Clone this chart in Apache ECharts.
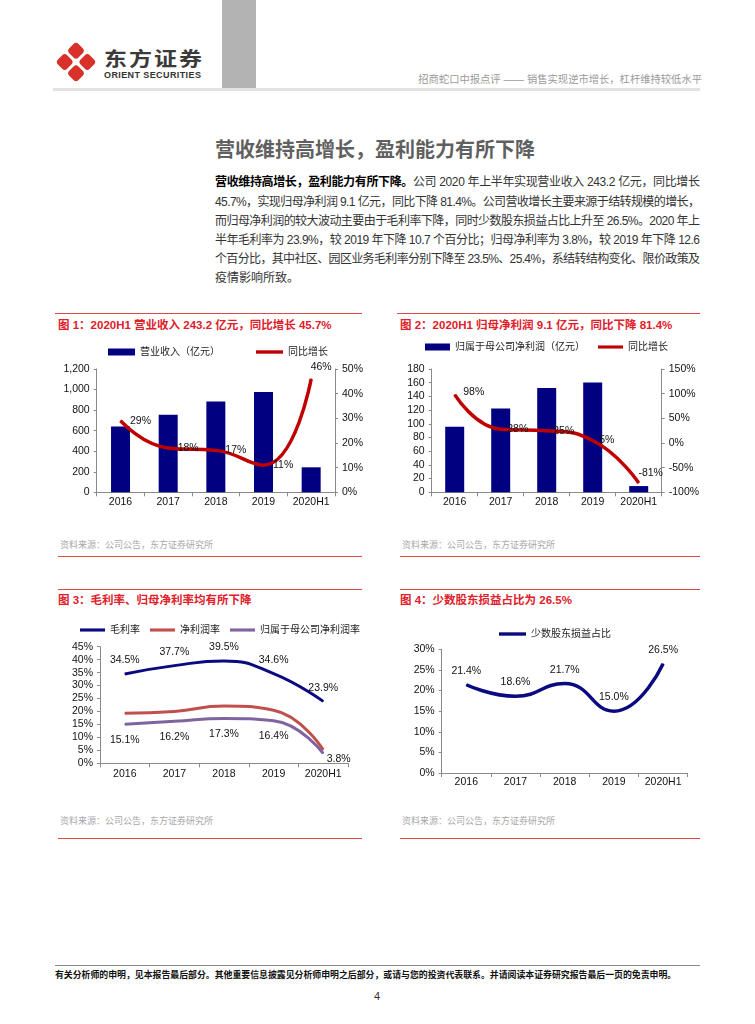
<!DOCTYPE html>
<html><head><meta charset="utf-8">
<script src="https://cdn.jsdelivr.net/npm/echarts@6/dist/echarts.min.js"></script>
<style>
body{margin:0;width:755px;height:1024px;position:relative;background:#fff;font-family:"Liberation Sans",Arial,"Noto Sans CJK SC",sans-serif;overflow:hidden;color:#222}
.a{position:absolute;white-space:nowrap}
.sec{position:absolute;height:1px;background:#e04848}
.ttl{position:absolute;font-size:11.5px;font-weight:bold;color:#e0202a;line-height:14px;white-space:nowrap}
.src{position:absolute;font-size:9px;color:#a8a8a8;line-height:11px;white-space:nowrap}
.para div{height:19.2px;line-height:19.2px;font-size:12px;color:#333;white-space:nowrap}
.ch{position:absolute}
</style></head><body>
<!-- header -->
<svg class="a" style="left:53px;top:40px" width="46" height="46" viewBox="0 0 46 46">
  <g transform="translate(23,22) rotate(45)" fill="#d8312a">
    <rect x="-14.5" y="-14.5" width="13" height="13" rx="3.5"/>
    <rect x="1.5" y="-14.5" width="13" height="13" rx="3.5"/>
    <rect x="-14.5" y="1.5" width="13" height="13" rx="3.5"/>
    <rect x="1.5" y="1.5" width="13" height="13" rx="3.5"/>
  </g>
</svg>
<div class="a" style="left:104px;top:48px;font-size:23px;line-height:23px;letter-spacing:2px;font-weight:bold;color:#3a3a3a;font-family:'Noto Sans CJK SC';transform:scaleY(0.85);transform-origin:0 0">东方证券</div>
<div class="a" style="left:104px;top:70px;font-size:9px;line-height:10px;letter-spacing:0.4px;font-weight:bold;color:#333">ORIENT SECURITIES</div>
<div class="a" style="left:222px;top:0;width:34px;height:90px;background:#b3b3b3"></div>
<div class="a" style="right:53px;top:74px;font-size:10.3px;line-height:12px;color:#9a9a9a">招商蛇口中报点评 —— 销售实现逆市增长，杠杆维持较低水平</div>
<div class="a" style="left:53px;top:88px;width:647px;height:3px;background:#e2e2e2"></div>

<div class="a" style="left:215px;top:138px;font-size:20px;line-height:24px;font-weight:bold;color:#606060">营收维持高增长，盈利能力有所下降</div>
<div class="a para" style="left:215px;top:173.4px;width:485px">
<div class="j"><span><b style="color:#000">营收维持高增长，盈利能力有所下降。</b>公司 2020 年上半年实现营业收入 243.2 亿元，同比增长</span></div>
<div class="j"><span>45.7%，实现归母净利润 9.1 亿元，同比下降 81.4%。公司营收增长主要来源于结转规模的增长，</span></div>
<div class="j"><span>而归母净利润的较大波动主要由于毛利率下降，同时少数股东损益占比上升至 26.5%。2020 年上</span></div>
<div class="j"><span>半年毛利率为 23.9%，较 2019 年下降 10.7 个百分比；归母净利率为 3.8%，较 2019 年下降 12.6</span></div>
<div class="j"><span>个百分比，其中社区、园区业务毛利率分别下降至 23.5%、25.4%，系结转结构变化、限价政策及</span></div>
<div><span>疫情影响所致。</span></div>
</div>

<!-- section lines & titles -->
<div class="sec" style="left:55px;top:313px;width:307px"></div>
<div class="sec" style="left:397px;top:313px;width:303px"></div>
<div class="ttl" style="left:58px;top:318px">图 1：2020H1 营业收入 243.2 亿元，同比增长 45.7%</div>
<div class="ttl" style="left:400px;top:318px">图 2：2020H1 归母净利润 9.1 亿元，同比下降 81.4%</div>
<div class="src" style="left:60px;top:540px">资料来源：公司公告，东方证券研究所</div>
<div class="src" style="left:402px;top:540px">资料来源：公司公告，东方证券研究所</div>
<div class="sec" style="left:58px;top:556px;width:304px"></div>
<div class="sec" style="left:400px;top:556px;width:300px"></div>

<div class="sec" style="left:58px;top:589px;width:304px"></div>
<div class="sec" style="left:400px;top:589px;width:300px"></div>
<div class="ttl" style="left:58px;top:593px">图 3：毛利率、归母净利率均有所下降</div>
<div class="ttl" style="left:400px;top:593px">图 4：少数股东损益占比为 26.5%</div>
<div class="src" style="left:60px;top:816px">资料来源：公司公告，东方证券研究所</div>
<div class="src" style="left:402px;top:816px">资料来源：公司公告，东方证券研究所</div>
<div class="sec" style="left:58px;top:838px;width:304px"></div>
<div class="sec" style="left:400px;top:838px;width:300px"></div>

<div class="ch" id="c1" style="left:55px;top:335px;width:330px;height:200px"></div>
<div class="ch" id="c2" style="left:395px;top:335px;width:320px;height:200px"></div>
<div class="ch" id="c3" style="left:55px;top:610px;width:330px;height:190px"></div>
<div class="ch" id="c4" style="left:395px;top:610px;width:320px;height:190px"></div>

<!-- footer -->
<div class="a" style="left:55px;top:965px;width:645px;height:1px;background:#8a8a8a"></div>
<div class="a" style="left:55px;top:970px;font-size:8.9px;line-height:11px;font-weight:bold;color:#111">有关分析师的申明，见本报告最后部分。其他重要信息披露见分析师申明之后部分，或请与您的投资代表联系。并请阅读本证券研究报告最后一页的免责申明。</div>
<div class="a" style="left:374px;top:990px;font-size:11px;line-height:13px;color:#333">4</div>

<script>
// ---- data ----
const years = ['2016', '2017', '2018', '2019', '2020H1'];
const revenue = [640, 755, 883, 977, 243.2];          // 营业收入（亿元）
const revenueYoY = [29, 18, 17, 11, 46];               // 同比增长 %
const netProfit = [95.6, 122.4, 152.4, 160.3, 9.1];    // 归属于母公司净利润（亿元）
const netProfitYoY = [98, 28, 25, 5, -81];             // 同比增长 %
const grossMargin = [34.5, 37.7, 39.5, 34.6, 23.9];    // 毛利率 %
const netMargin = [19.3, 20.0, 22.1, 20.5, 5.2];       // 净利润率 %
const parentNetMargin = [15.1, 16.2, 17.3, 16.4, 3.8]; // 归属于母公司净利润率 %
const minorityShare = [21.4, 18.6, 21.7, 15.0, 26.5];  // 少数股东损益占比 %

// justify paragraph lines to exact width
document.querySelectorAll('.para .j').forEach(d => {
  const s = d.querySelector('span');
  const w = s.getBoundingClientRect().width;
  const n = s.textContent.length;
  s.style.letterSpacing = ((485 - w) / (n - 1)) + 'px';
});

// ---- styles ----
const FONT = '"Liberation Sans", Arial, "Noto Sans CJK SC", sans-serif';
const NAVY = '#000080';
const RED = '#c00000';
const AX = '#8a8a8a';
const TXT = '#111';
const LINE_ICON = 'path://M0,0H40V5H0Z';

function catAxis(margin) {
  return {
    type: 'category', data: years, boundaryGap: true,
    axisLine: { lineStyle: { color: AX } },
    axisTick: { show: true, alignWithLabel: false, length: 4, lineStyle: { color: AX } },
    axisLabel: { color: TXT, fontSize: 10.5, fontFamily: FONT, margin: margin, interval: 0 }
  };
}
function valAxis(min, max, interval, fmt, pos) {
  return {
    type: 'value', min: min, max: max, interval: interval, position: pos || 'left',
    splitLine: { show: false },
    axisLine: { show: true, lineStyle: { color: AX } },
    axisTick: { show: true, length: 3, lineStyle: { color: AX } },
    axisLabel: { color: TXT, fontSize: 10.5, fontFamily: FONT, margin: 7, formatter: fmt }
  };
}
const legendText = { color: '#222', fontSize: 10, fontFamily: FONT };
const lblBase = { show: true, color: TXT, fontSize: 10.5, fontFamily: FONT };
function lineSeries(name, color, width, data, extra) {
  return Object.assign({
    name: name, type: 'line', smooth: true, symbol: 'circle', symbolSize: 1, showSymbol: true,
    data: data, lineStyle: { color: color, width: width }, itemStyle: { color: color }
  }, extra || {});
}

// ---- chart 1 ----
const c1 = echarts.init(document.getElementById('c1'), null, { renderer: 'canvas' });
c1.setOption({
  animation: false,
  legend: {
    left: 48, top: 7, itemWidth: 27, itemHeight: 7, itemGap: 36, textStyle: legendText,
    data: [{ name: '营业收入（亿元）', icon: 'rect' }, { name: '同比增长', icon: LINE_ICON }]
  },
  grid: { left: 41.7, top: 34, width: 238.3, height: 123.3 },
  xAxis: catAxis(5),
  yAxis: [
    valAxis(0, 1200, 200, v => v.toLocaleString('en-US')),
    valAxis(0, 50, 10, v => v + '%', 'right')
  ],
  series: [
    { name: '营业收入（亿元）', type: 'bar', data: revenue, barWidth: 19, itemStyle: { color: NAVY } },
    lineSeries('同比增长', RED, 3.5,
      revenueYoY.map((v, i) => ({
        value: v,
        label: i === 4 ? { position: 'top', offset: [10, 0], distance: 6 } : { position: 'right', distance: 9 }
      })),
      { yAxisIndex: 1, label: Object.assign({}, lblBase, { formatter: p => p.value + '%' }) })
  ]
});

// ---- chart 2 ----
const c2 = echarts.init(document.getElementById('c2'), null, { renderer: 'canvas' });
c2.setOption({
  animation: false,
  legend: {
    left: 25, top: 2, itemWidth: 25, itemHeight: 7, itemGap: 13, textStyle: legendText,
    data: [{ name: '归属于母公司净利润（亿元）', icon: 'rect' }, { name: '同比增长', icon: LINE_ICON }]
  },
  grid: { left: 36.7, top: 34, width: 230, height: 123.3 },
  xAxis: catAxis(5),
  yAxis: [
    valAxis(0, 180, 20, v => v),
    valAxis(-100, 150, 50, v => v + '%', 'right')
  ],
  series: [
    { name: '归属于母公司净利润（亿元）', type: 'bar', data: netProfit, barWidth: 19, itemStyle: { color: NAVY } },
    lineSeries('同比增长', RED, 3.5,
      netProfitYoY.map((v, i) => ({
        value: v,
        label: i === 4 ? { position: 'top', offset: [12, 0], distance: 4 }
          : (i === 0 ? { position: 'right', distance: 8, offset: [0, -3] } : { position: 'right', distance: 6 })
      })),
      { yAxisIndex: 1, label: Object.assign({}, lblBase, { formatter: p => p.value + '%' }) })
  ]
});

// ---- chart 3 ----
const c3 = echarts.init(document.getElementById('c3'), null, { renderer: 'canvas' });
const pct1 = p => p.value.toFixed(1) + '%';
c3.setOption({
  animation: false,
  legend: {
    left: 20, top: 10, itemWidth: 25, itemHeight: 8, itemGap: 10, textStyle: legendText,
    data: [{ name: '毛利率', icon: LINE_ICON }, { name: '净利润率', icon: LINE_ICON }, { name: '归属于母公司净利润率', icon: LINE_ICON }]
  },
  grid: { left: 45, top: 36.7, width: 248, height: 116.6 },
  xAxis: catAxis(6),
  yAxis: valAxis(0, 45, 5, v => v + '%'),
  series: [
    lineSeries('毛利率', '#0a0a80', 3, grossMargin,
      { label: Object.assign({}, lblBase, { position: 'top', distance: 8, formatter: pct1 }) }),
    lineSeries('净利润率', '#c0504d', 3, netMargin),
    lineSeries('归属于母公司净利润率', '#8064a2', 3,
      parentNetMargin.map((v, i) => ({
        value: v,
        label: i === 4 ? { position: 'right', distance: 3, offset: [0, 6] } : { position: 'bottom', distance: 10 }
      })),
      { label: Object.assign({}, lblBase, { formatter: pct1 }) })
  ]
});

// ---- chart 4 ----
const c4 = echarts.init(document.getElementById('c4'), null, { renderer: 'canvas' });
c4.setOption({
  animation: false,
  legend: {
    left: 'center', top: 14, itemWidth: 27, itemHeight: 8, textStyle: legendText,
    data: [{ name: '少数股东损益占比', icon: LINE_ICON }]
  },
  grid: { left: 46.7, top: 39.3, width: 246, height: 123.7 },
  xAxis: catAxis(4),
  yAxis: valAxis(0, 30, 5, v => v + '%'),
  series: [
    lineSeries('少数股东损益占比', '#0a0a80', 3.5, minorityShare,
      { label: Object.assign({}, lblBase, { position: 'top', distance: 8, formatter: pct1 }) })
  ]
});
</script>
</body></html>
